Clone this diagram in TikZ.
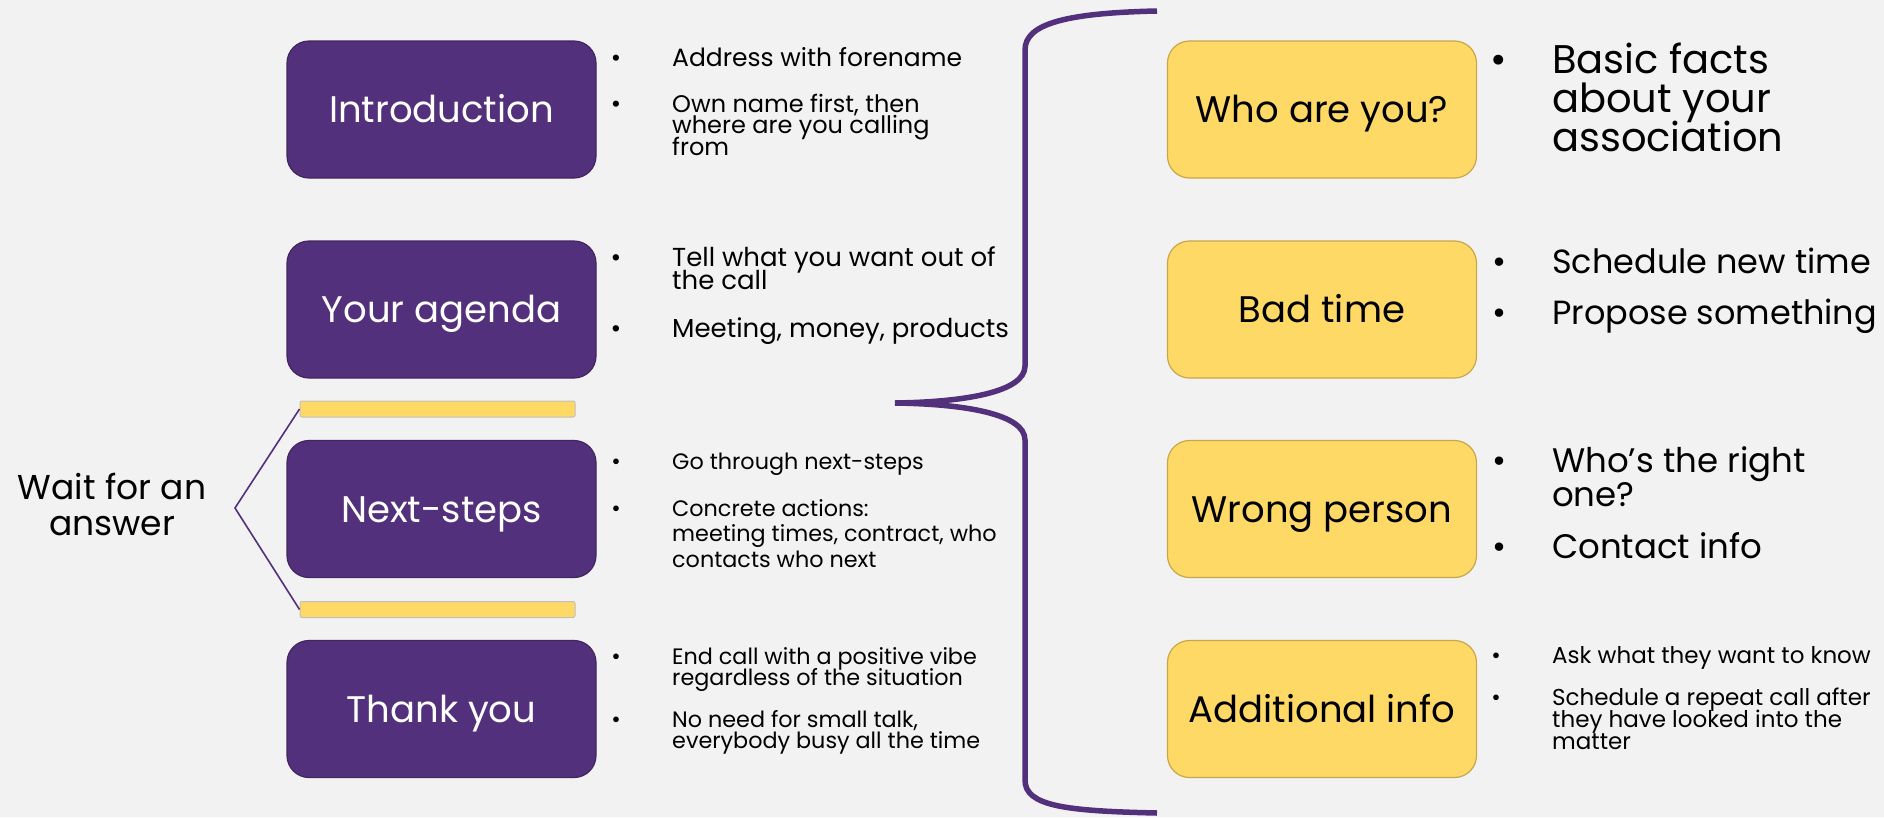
\documentclass[tikz,border=0pt]{standalone}
\usepackage{fontspec}
\setmainfont{Poppins}
\definecolor{bg}{HTML}{F2F2F2}
\definecolor{purp}{HTML}{53307C}
\definecolor{purpdark}{HTML}{42265F}
\definecolor{yel}{HTML}{FFD966}
\definecolor{yeldark}{HTML}{C8A64B}
\definecolor{bargray}{HTML}{BFBFBF}
\newcommand\mylines[2]{\vtop{\baselineskip=#1pt\lineskiplimit=-100pt\lineskip=0pt #2}}
\newcommand\myfs[1]{\fontsize{#1}{#1}\selectfont}
\begin{document}
\begin{tikzpicture}[x=1pt,y=-1pt,
  pbox/.style={draw=purpdark, line width=1.2pt, fill=purp, rounded corners=22pt,
    minimum width=309pt, minimum height=137pt, inner sep=0pt, text=white,
    font=\myfs{37}, text height=26pt, text depth=0pt},
  ybox/.style={pbox, draw=yeldark, fill=yel, text=black},
  bar/.style={draw=bargray, line width=1pt, fill=yel, rounded corners=2pt,
    minimum width=275pt, minimum height=16pt, inner sep=0pt},
  txt/.style={anchor=base west, inner sep=0pt, text=black},
  bul/.style={anchor=base, inner sep=0pt, text=black},
  brace/.style={draw=purp, line width=5.5pt},
  wline/.style={draw=purp, line width=1.6pt}
]
\useasboundingbox (0,0) rectangle (1884,817);
\fill[bg] (0,0) rectangle (1884,817);

% left boxes
\node[pbox] (intro) at (441.5,109.5) {Introduction};
\node[pbox] (agenda) at (441.5,309.5) {Your agenda};
\node[pbox] (next) at (441.5,509) {Next-steps};
\node[pbox] (thanks) at (441.5,709) {Thank you};
% right boxes
\node[ybox] (who) at (1322,109.5) {Who are you?};
\node[ybox] (bad) at (1322,309.5) {Bad time};
\node[ybox] (wrong) at (1322,509) {Wrong person};
\node[ybox] (addl) at (1322,709) {Additional info};

% bars and wait label
\node[bar] (bar1) at (437.5,409) {};
\node[bar] (bar2) at (437.5,609.5) {};
\node[align=center, font=\fontsize{34.5}{36}\selectfont, inner sep=0pt] (wait) at (112,504) {Wait for an\\answer};
\coordinate (vtx) at (235,508);
\draw[wline] (bar1.west) -- (vtx) -- (bar2.west);

% brace
\coordinate (bt) at (1157,11);
\coordinate (tip) at (895,403);
\coordinate (bb) at (1157,813);
\draw[brace] (bt) .. controls (1065,13) and (1025,24) .. (1025,50) -- (1025,366)
  .. controls (1025,392) and (965,402) .. (tip)
  .. controls (965,404) and (1025,414) .. (1025,440) -- (1025,780)
  .. controls (1025,806) and (1065,811) .. (bb);

% left bullet texts
\node[bul, font=\myfs{25}] (b1a) at (616,66) {•};
\node[txt, font=\myfs{25}] (t1a) at (672,66) {Address with forename};
\node[bul, font=\myfs{25}] (b1b) at (616,112) {•};
\node[txt, font=\myfs{24}] (t1b) at (672,112) {\mylines{21.5}{\hbox{Own name first, then}\hbox{where are you calling}\hbox{from}}};

\node[bul, font=\myfs{26}] (b2a) at (616,266) {•};
\node[txt, font=\myfs{26}] (t2a) at (672,266) {\mylines{23}{\hbox{Tell what you want out of}\hbox{the call}}};
\node[bul, font=\myfs{26}] (b2b) at (616,337) {•};
\node[txt, font=\myfs{26}] (t2b) at (672,337) {Meeting, money, products};

\node[bul, font=\myfs{23}] (b3a) at (616,469) {•};
\node[txt, font=\myfs{22.3}] (t3a) at (672,469) {Go through next-steps};
\node[bul, font=\myfs{23}] (b3b) at (616,516) {•};
\node[txt, font=\myfs{22.3}] (t3b) at (672,516) {\mylines{25.5}{\hbox{Concrete actions:}\hbox{meeting times, contract, who}\hbox{contacts who next}}};

\node[bul, font=\myfs{23}] (b4a) at (616,664) {•};
\node[txt, font=\myfs{22.3}] (t4a) at (672,664) {\mylines{21}{\hbox{End call with a positive vibe}\hbox{regardless of the situation}}};
\node[bul, font=\myfs{23}] (b4b) at (616,727) {•};
\node[txt, font=\myfs{22.3}] (t4b) at (672,727) {\mylines{21}{\hbox{No need for small talk,}\hbox{everybody busy all the time}}};

% right bullet texts
\node[bul, font=\myfs{40}] (b5a) at (1499,73) {•};
\node[txt, font=\myfs{40}] (t5a) at (1552,73) {\mylines{39}{\hbox{Basic facts}\hbox{about your}\hbox{association}}};

\node[bul, font=\myfs{34}] (b6a) at (1499,273) {•};
\node[txt, font=\myfs{33.5}] (t6a) at (1552,273) {Schedule new time};
\node[bul, font=\myfs{34}] (b6b) at (1499,324) {•};
\node[txt, font=\myfs{33.5}] (t6b) at (1552,324) {Propose something};

\node[bul, font=\myfs{34}] (b7a) at (1499,472) {•};
\node[txt, font=\myfs{34}] (t7a) at (1552,472) {\mylines{34}{\hbox{Who’s the right}\hbox{one?}}};
\node[bul, font=\myfs{34}] (b7b) at (1499,558) {•};
\node[txt, font=\myfs{34}] (t7b) at (1552,558) {Contact info};

\node[bul, font=\myfs{23}] (b8a) at (1496,663) {•};
\node[txt, font=\myfs{23}] (t8a) at (1552,663) {Ask what they want to know};
\node[bul, font=\myfs{23}] (b8b) at (1496,705) {•};
\node[txt, font=\myfs{23}] (t8b) at (1552,705) {\mylines{22}{\hbox{Schedule a repeat call after}\hbox{they have looked into the}\hbox{matter}}};
\end{tikzpicture}
\end{document}
